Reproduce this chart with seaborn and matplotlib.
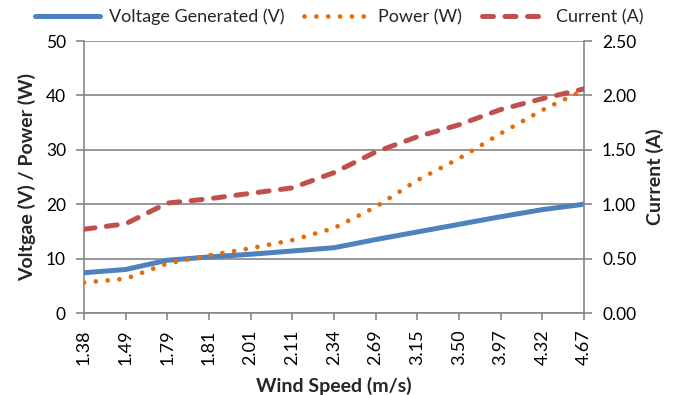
import matplotlib
matplotlib.use("Agg")
import matplotlib.pyplot as plt
import seaborn as sns
import pandas as pd
import numpy as np

wind_speed = ["1.38", "1.49", "1.79", "1.81", "2.01", "2.11", "2.34", "2.69", "3.15", "3.50", "3.97", "4.32", "4.67"]
voltage = [7.4, 8.0, 9.7, 10.3, 10.8, 11.4, 12.0, 13.5, 14.9, 16.3, 17.7, 19.0, 20.0]
power = [5.6, 6.3, 9.1, 10.6, 11.9, 13.4, 15.6, 19.5, 24.4, 28.4, 33.0, 37.3, 41.0]
current = [0.77, 0.82, 1.01, 1.05, 1.10, 1.15, 1.29, 1.48, 1.62, 1.73, 1.87, 1.97, 2.06]

sns.set_theme(style="white")
plt.rcParams['font.family'] = ['Lato', 'DejaVu Sans']

df = pd.DataFrame({"pos": np.arange(len(wind_speed)), "voltage": voltage,
                   "power": power, "current": current})

fig = plt.figure(figsize=(6.78, 3.95), dpi=100)
ax = fig.add_axes([84/678, 1-313/395, 500/678, 272/395])
ax2 = ax.twinx()

blue = "#4F81BD"
orange = "#E46C0A"
red = "#C0504D"
grid = "#868686"

sns.lineplot(data=df, x="pos", y="voltage", ax=ax, color=blue, lw=3.6,
             legend=False, zorder=3)
sns.lineplot(data=df, x="pos", y="power", ax=ax, color=orange, lw=3.4,
             linestyle=(0, (0.01, 2.5)), legend=False, zorder=3)
sns.lineplot(data=df, x="pos", y="current", ax=ax2, color=red, lw=3.6,
             linestyle=(0, (2.2, 2.3)), legend=False, zorder=3)
ax.get_lines()[0].set_solid_capstyle("round")
ax.get_lines()[1].set_dash_capstyle("round")
ax2.get_lines()[0].set_dash_capstyle("round")

ax.set_xlim(0, len(wind_speed) - 1)
ax.set_ylim(0, 50)
ax2.set_ylim(0, 2.5)
ax.set_yticks(np.arange(0, 51, 10))
ax2.set_yticks(np.arange(0, 2.51, 0.5))
ax2.set_yticklabels([f"{v:.2f}" for v in np.arange(0, 2.51, 0.5)])
ax.set_xticks(df["pos"])
ax.set_xticklabels(wind_speed, rotation=90)

ax.yaxis.grid(True, color=grid, lw=1.2)
ax.xaxis.grid(False)
ax2.grid(False)
for a in (ax, ax2):
    for s in a.spines.values():
        s.set_visible(False)
for a, side in ((ax, "left"), (ax, "bottom"), (ax2, "right")):
    a.spines[side].set_visible(True)
    a.spines[side].set_color(grid)
    a.spines[side].set_linewidth(1.2)

ax.tick_params(axis="y", left=True, direction="out", length=6, width=1.2,
               color=grid, labelsize=12.5, labelcolor="black", pad=7)
ax.tick_params(axis="x", bottom=True, direction="out", length=5, width=1.2,
               color=grid, labelsize=13, labelcolor="black", pad=7)
ax2.tick_params(axis="y", right=True, direction="out", length=6, width=1.2,
                color=grid, labelsize=12.5, labelcolor="black", pad=7)

ax.set_xlabel("Wind Speed (m/s)", fontsize=14, fontweight="bold", labelpad=8)
ax.set_ylabel("Voltgae (V) / Power (W)", fontsize=14, fontweight="bold", labelpad=7)
ax2.set_ylabel("Current (A)", fontsize=14, fontweight="bold", labelpad=7)

handles = ax.get_lines()[:2] + ax2.get_lines()[:1]
labels = ["Voltage Generated (V)", "Power (W)", "Current (A)"]
fig.legend(handles, labels, loc="center", bbox_to_anchor=(0.5, 1 - 17/395), ncol=3,
           frameon=False, fontsize=13, handlelength=3.6, columnspacing=1.1,
           handletextpad=0.5, borderaxespad=0)

fig.savefig("out.png", dpi=100)
